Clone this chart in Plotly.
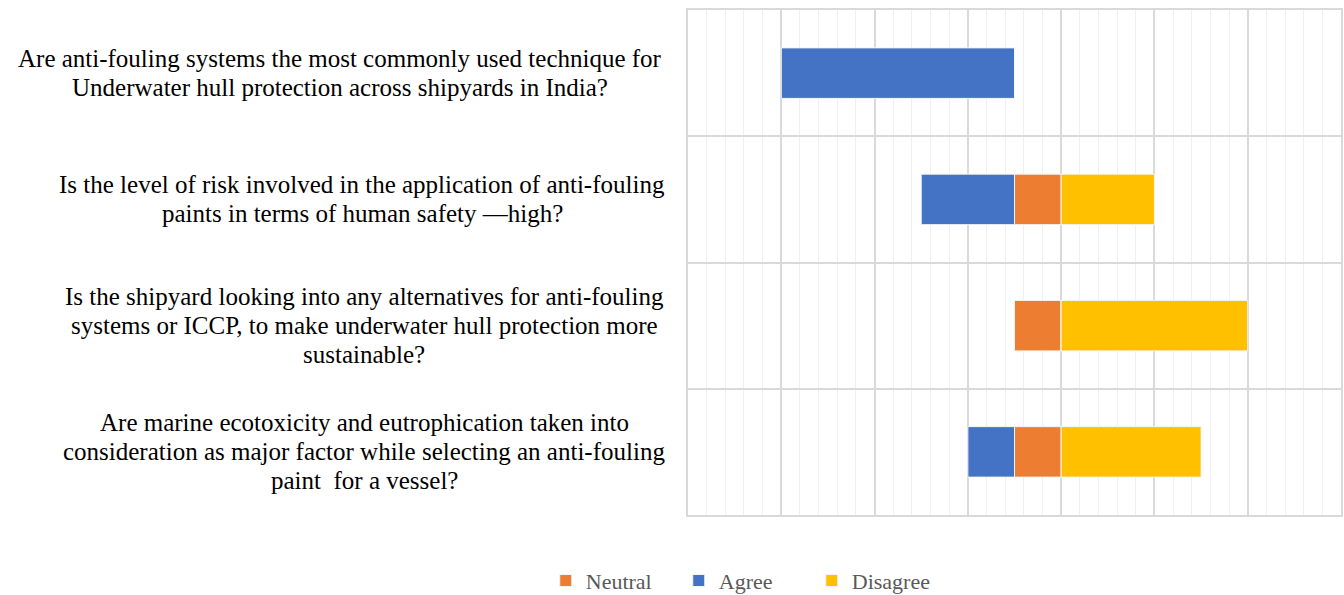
import plotly.graph_objects as go

questions = [
    ["Are anti-fouling systems the most commonly used technique for",
     "Underwater hull protection across shipyards in India?"],
    ["Is the level of risk involved in the application of anti-fouling",
     "paints in terms of human safety \u2014high?"],
    ["Is the shipyard looking into any alternatives for anti-fouling",
     "systems or ICCP, to make underwater hull protection more",
     "sustainable?"],
    ["Are marine ecotoxicity and eutrophication taken into",
     "consideration as major factor while selecting an anti-fouling",
     "paint  for a vessel?"],
]
cats = ["Q1", "Q2", "Q3", "Q4"]
neutral = [0, 1, 1, 1]
agree = [5, 2, 0, 1]
disagree = [0, 2, 4, 3]

colors = {"Neutral": "#ED7D31", "Agree": "#4472C4", "Disagree": "#FFC000"}
FONT = "Liberation Serif"
LINE_H = 29
PLOT_L, PLOT_R = 688, 1341
# horizontal centres (px) of each centred question block
block_cx = [340, 362, 364, 364]

fig = go.Figure()
fig.add_trace(go.Bar(name="Neutral", y=cats, x=neutral, orientation="h",
                     marker=dict(color=colors["Neutral"], line=dict(color="#f4f4f4", width=1))))
fig.add_trace(go.Bar(name="Agree", y=cats, x=[-v for v in agree], orientation="h",
                     marker=dict(color=colors["Agree"], line=dict(color="#f4f4f4", width=1))))
fig.add_trace(go.Bar(name="Disagree", y=cats, x=disagree, orientation="h",
                     marker=dict(color=colors["Disagree"], line=dict(color="#f4f4f4", width=1))))

for c, lines, cx in zip(cats, questions, block_cx):
    n = len(lines)
    xp = (cx - PLOT_L) / (PLOT_R - PLOT_L)
    for i, ln in enumerate(lines):
        fig.add_annotation(x=xp, xref="paper", y=c, yref="y", text=ln, showarrow=False,
                           xanchor="center", yanchor="middle", align="center",
                           yshift=-(i - (n - 1) / 2) * LINE_H,
                           font=dict(family=FONT, size=25, color="#000000"))

fig.update_layout(
    width=1344, height=595,
    margin=dict(l=PLOT_L, r=1344 - PLOT_R, t=10, b=80, autoexpand=False),
    barmode="relative", bargap=0.6,
    plot_bgcolor="white", paper_bgcolor="white",
    showlegend=True,
    legend=dict(orientation="h", x=0.5545, xref="container", xanchor="center",
                y=0.024, yref="container", yanchor="middle",
                font=dict(family=FONT, size=22, color="#595959"),
                itemwidth=30, entrywidth=88, entrywidthmode="pixels",
                traceorder="normal"),
    xaxis=dict(range=[-7, 7], tick0=-7, dtick=2, showticklabels=False, zeroline=False,
               showgrid=True, gridcolor="#d9d9d9", gridwidth=1.5,
               minor=dict(dtick=0.4, tick0=-7, showgrid=True, gridcolor="#f0f0f0", gridwidth=1),
               showline=True, linecolor="#d9d9d9", linewidth=1.5, mirror=True),
    yaxis=dict(categoryorder="array", categoryarray=cats, autorange="reversed",
               tickson="boundaries", showticklabels=False, showgrid=True,
               gridcolor="#d9d9d9", gridwidth=1.5, ticks="",
               showline=True, linecolor="#d9d9d9", linewidth=1.5, mirror=True),
)

fig.write_html("out.html", config={"displayModeBar": False},
               post_script="document.body.style.margin='0';")
